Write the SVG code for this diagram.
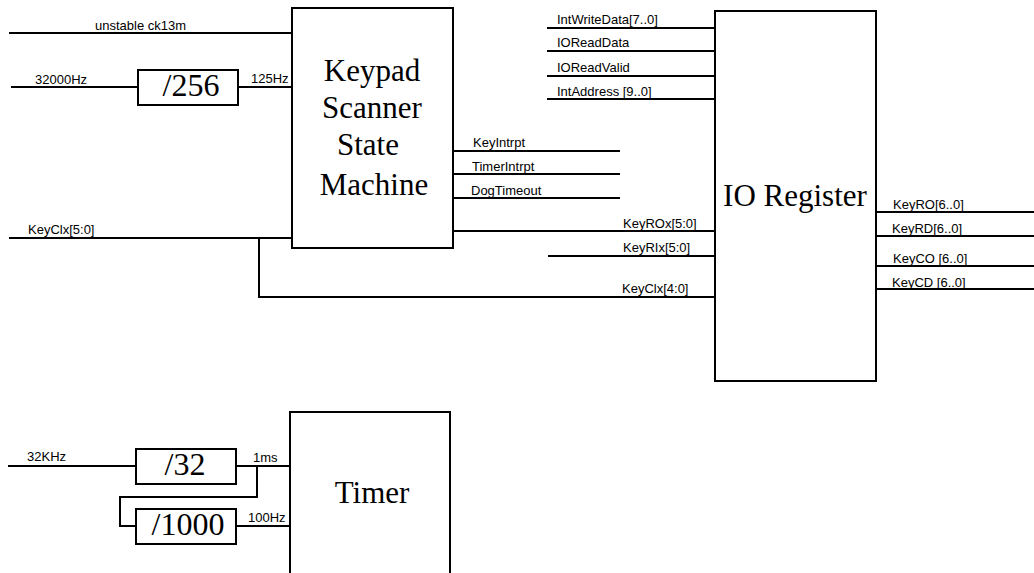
<svg xmlns="http://www.w3.org/2000/svg" width="1034" height="573" viewBox="0 0 1034 573">
<style>
.box{fill:#fff;stroke:#000;stroke-width:2}
.w{fill:none;stroke:#000;stroke-width:2}
.big{font-family:"Liberation Serif","Times New Roman",serif;font-size:31px;fill:#000;text-anchor:middle}
.div{font-family:"Liberation Serif","Times New Roman",serif;font-size:32px;fill:#000;text-anchor:middle}
.lbl{font-family:"Liberation Sans",Arial,sans-serif;font-size:13px;fill:#000}
</style>
<rect width="1034" height="573" fill="#fff"/>
<g id="connectors">
<path class="w" d="M9 33H292"/>
<path class="w" d="M11 87H138"/>
<path class="w" d="M238 87H292"/>
<path class="w" d="M9 238H292"/>
<path class="w" d="M259 238V297H715"/>
<path class="w" d="M453 151H620"/>
<path class="w" d="M453 174H620"/>
<path class="w" d="M453 198H620"/>
<path class="w" d="M453 231H715"/>
<path class="w" d="M548 256H715"/>
<path class="w" d="M547 28H715"/>
<path class="w" d="M547 51H715"/>
<path class="w" d="M547 76H715"/>
<path class="w" d="M547 99H715"/>
<path class="w" d="M876 212H1034"/>
<path class="w" d="M876 236H1034"/>
<path class="w" d="M876 266H1034"/>
<path class="w" d="M876 289H1034"/>
<path class="w" d="M8 466H136"/>
<path class="w" d="M236 466H290"/>
<path class="w" d="M257 466V497H120V526H136"/>
<path class="w" d="M236 526H290"/>
</g>
<g id="labels">
<text class="lbl" x="95" y="30">unstable ck13m</text>
<text class="lbl" x="35" y="84">32000Hz</text>
<text class="lbl" x="251" y="83">125Hz</text>
<text class="lbl" x="28" y="234">KeyClx[5:0]</text>
<text class="lbl" x="473" y="147">KeyIntrpt</text>
<text class="lbl" x="472" y="171">TimerIntrpt</text>
<text class="lbl" x="471" y="195">DogTimeout</text>
<text class="lbl" x="623" y="228">KeyROx[5:0]</text>
<text class="lbl" x="623" y="252">KeyRIx[5:0]</text>
<text class="lbl" x="622" y="293">KeyClx[4:0]</text>
<text class="lbl" x="557" y="24">IntWriteData[7..0]</text>
<text class="lbl" x="557" y="47">IOReadData</text>
<text class="lbl" x="557" y="72">IOReadValid</text>
<text class="lbl" x="557" y="96">IntAddress [9..0]</text>
<text class="lbl" x="893" y="209">KeyRO[6..0]</text>
<text class="lbl" x="892" y="233">KeyRD[6..0]</text>
<text class="lbl" x="893" y="263">KeyCO [6..0]</text>
<text class="lbl" x="892" y="287">KeyCD [6..0]</text>
<text class="lbl" x="27" y="461">32KHz</text>
<text class="lbl" x="253" y="462">1ms</text>
<text class="lbl" x="248" y="522">100Hz</text>
</g>
<g id="div256">
<rect class="box" x="138" y="70" width="100" height="35"/>
<text class="div" x="191" y="96">/256</text>
</g>
<g id="keypad-scanner">
<rect class="box" x="292" y="8" width="161" height="240"/>
<text class="big" x="372" y="81">Keypad</text>
<text class="big" x="372" y="118">Scanner</text>
<text class="big" x="368" y="155">State</text>
<text class="big" x="374" y="195">Machine</text>
</g>
<g id="io-register">
<rect class="box" x="715" y="11" width="161" height="370"/>
<text class="big" x="795" y="206">IO Register</text>
</g>
<g id="div32">
<rect class="box" x="136" y="449" width="100" height="35"/>
<text class="div" x="185" y="475">/32</text>
</g>
<g id="div1000">
<rect class="box" x="136" y="509" width="100" height="35"/>
<text class="div" x="188" y="535">/1000</text>
</g>
<g id="timer">
<rect class="box" x="290" y="412" width="160" height="175"/>
<text class="big" x="372" y="503">Timer</text>
</g>
</svg>
